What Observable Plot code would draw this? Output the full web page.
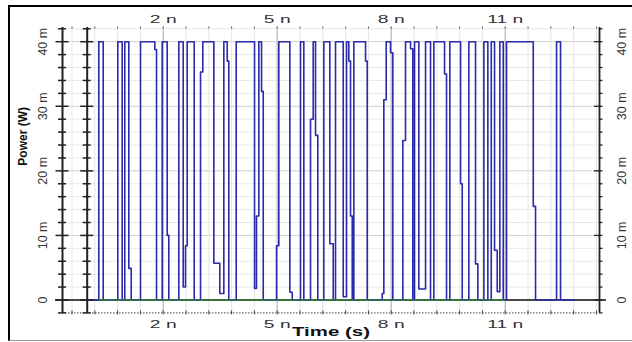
<!DOCTYPE html>
<html><head><meta charset="utf-8">
<script src="https://cdn.jsdelivr.net/npm/d3@7"></script>
<script src="https://cdn.jsdelivr.net/npm/@observablehq/plot@0.6"></script>
<style>
html,body{margin:0;padding:0;background:#fff;}
#wrap{position:relative;width:632px;height:342px;overflow:hidden;background:#fff;}
#frame{position:absolute;left:8px;top:5px;width:700px;height:333px;border-left:2.5px solid #000;border-top:2px solid #000;border-bottom:1.5px solid #999;}
#wrap svg{position:absolute;left:0;top:0;}
</style></head><body><div id="wrap"><div id="frame"></div></div>
<script>
// Pulse trace (time in ns, power in mW), step-after
const times = [0, 0.305, 0.421, 0.805, 0.921, 0.989, 1.095, 1.158, 1.403, 1.779, 1.824, 1.974, 2.105, 2.147, 2.411, 2.526, 2.587, 2.632, 2.816, 2.982, 3.042, 3.332, 3.489, 3.595, 3.684, 3.726, 3.921, 4.403, 4.455, 4.516, 4.587, 4.632, 4.982, 5.042, 5.332, 5.395, 5.613, 5.700, 5.876, 5.947, 6.008, 6.068, 6.226, 6.384, 6.474, 6.534, 6.737, 6.824, 6.884, 6.929, 6.974, 7.016, 7.324, 7.368, 7.763, 7.805, 7.868, 7.982, 8.042, 8.305, 8.376, 8.508, 8.568, 8.613, 8.726, 8.903, 9.034, 9.121, 9.403, 9.455, 9.542, 9.824, 9.868, 10.042, 10.218, 10.279, 10.437, 10.542, 10.632, 10.718, 10.789, 10.858, 10.947, 11.034, 11.737, 11.797, 12.35, 12.455, 12.8];
const power = [0, 40, 0, 40, 0, 40, 4.9, 0, 40, 38.8, 0, 40, 10, 0, 40, 2, 8.4, 40, 0, 35.3, 40, 5.7, 1, 40, 37, 0, 40, 1.8, 13, 40, 32.3, 0, 8.4, 40, 1.2, 0, 40, 0, 28, 40, 25.5, 0, 40, 8.7, 0, 40, 0.5, 40, 37, 13, 0, 40, 37, 0, 1, 31, 40, 38.3, 0, 24.7, 40, 38.9, 0, 40, 1.7, 40, 0, 40, 35, 0, 40, 18, 0, 40, 5.6, 0, 40, 0, 40, 7.7, 1.3, 40, 0, 40, 14.5, 0, 40, 0, 0];
// Green zero-level trace span (ns)
const greenSpan = [0.31, 11.03];
// Axis ticks and labels
const xTicks = [2, 5, 8, 11];
const xTickLabels = ["2 n", "5 n", "8 n", "11 n"];
const yTicks = [0, 10, 20, 30, 40];
const yTickLabels = ["0", "10 m", "20 m", "30 m", "40 m"];
const xTitle = "Time (s)";
const yTitle = "Power (W)";
const xGrid = d3.range(-0.4, 13.41, 0.6);
const yGrid = d3.range(-2, 42.01, 2);

const W = 632, H = 342, ML = 62, MR = 33, MT = 27, MB = 29.6;
const X0 = -0.65, X1 = 13.48, Y0 = -2, Y1 = 42.2;
const kx = (W - ML - MR) / (X1 - X0), ky = (H - MT - MB) / (Y1 - Y0);
const isMajorX = d => Math.abs(d - Math.round(d)) < 1e-6 && xTicks.includes(Math.round(d));
const isMajorY = d => Math.round(d) % 10 === 0;

const data = times.map((t, i) => ({t, p: power[i]}));
const leftAxes = [X0, 0];
const leftTicks = leftAxes.flatMap(a => yGrid.map(y => ({a, y, len: isMajorY(y) && y >= 0 && y <= 40 ? 6.5 : 4})));

const svg = Plot.plot({
  width: W, height: H,
  marginLeft: ML, marginRight: MR, marginTop: MT, marginBottom: MB,
  x: {domain: [X0, X1], axis: null},
  y: {domain: [Y0, Y1], axis: null},
  style: {fontFamily: "Liberation Sans", background: "transparent", overflow: "visible"},
  marks: [
    Plot.ruleY(yGrid.filter(d => d > -2), {y: d => d, stroke: d => isMajorY(d) ? "#cfcfcf" : "#e8e8e8", strokeWidth: 1}),
    Plot.ruleX(xGrid, {x: d => d, y1: Y0, y2: Y1, stroke: d => isMajorX(d) ? "#c4c4c4" : "#e6e6e6", strokeWidth: d => isMajorX(d) ? 1.5 : 1}),
    Plot.ruleY([Y0], {y: d => d, stroke: "#444", strokeDasharray: "1.5,1.5", strokeWidth: 1}),
    Plot.ruleX(xGrid, {x: d => d, y1: Y0 - 2 / ky, y2: Y0 + 2 / ky, stroke: "#444"}),
    Plot.ruleX(xGrid, {x: d => d, y1: Y1 - 1.5 / ky, y2: Y1 + 0.5 / ky, stroke: "#555"}),
    Plot.ruleY([0], {y: d => d, x1: X0 - 7 / kx, x2: X1 + 7 / kx, stroke: "#111", strokeWidth: 1.3}),
    Plot.line(data, {x: "t", y: "p", curve: "step-after", stroke: "#2a2aaa", strokeWidth: 1.6}),
    Plot.ruleY([0], {y: d => d, x1: greenSpan[0], x2: greenSpan[1], stroke: "#2e9e2e", strokeWidth: 1}),
    Plot.ruleX(leftAxes, {x: d => d, y1: Y0, y2: Y1, stroke: "#222", strokeWidth: 2}),
    Plot.ruleY(leftTicks, {y: "y", x1: d => d.a - d.len / kx, x2: d => d.a + d.len / kx, stroke: "#222", strokeWidth: 1.5}),
    Plot.ruleX([X1], {x: d => d, y1: Y0, y2: Y1, stroke: "#222", strokeWidth: 1.8}),
    Plot.ruleY(yGrid, {y: d => d, x1: d => X1 - (isMajorY(d) && d >= 0 && d <= 40 ? 5 : 0) / kx, x2: X1 + 3.5 / kx, stroke: "#222", strokeWidth: 1.3}),
    Plot.text(yTicks, {x: X0, y: d => d, text: (d, i) => yTickLabels[i], rotate: -90, dx: -20, fontSize: 12.5, fill: "#333"}),
    Plot.text(yTicks, {x: X1, y: d => d, text: (d, i) => yTickLabels[i], rotate: -90, dx: 22, fontSize: 12.5, fill: "#333"}),
    Plot.text([yTitle], {frameAnchor: "left", text: d => d, rotate: -90, dx: -39, dy: -4.5, fontSize: 12, fontWeight: "bold", fill: "#111"}),
    Plot.text(xTicks, {x: d => d, y: Y1, text: (d, i) => xTickLabels[i], dy: -8.5, fontSize: 11, fill: "#333"}),
    Plot.text(xTicks, {x: d => d, y: Y0, text: (d, i) => xTickLabels[i], dy: 12, fontSize: 11, fill: "#333"}),
    Plot.text([xTitle], {frameAnchor: "bottom", text: d => d, dy: 23.5, fontSize: 13, fontWeight: "bold", fill: "#111"})
  ]
});
document.getElementById("wrap").appendChild(svg);
d3.select(svg).selectAll("text").each(function() {
  const s = this.textContent;
  if (xTickLabels.includes(s)) {
    const L = this.getComputedTextLength();
    this.setAttribute("textLength", L * 1.75);
    this.setAttribute("lengthAdjust", "spacingAndGlyphs");
  } else if (s === xTitle) {
    this.setAttribute("textLength", 78);
    this.setAttribute("lengthAdjust", "spacingAndGlyphs");
  }
});
</script>
</body></html>
